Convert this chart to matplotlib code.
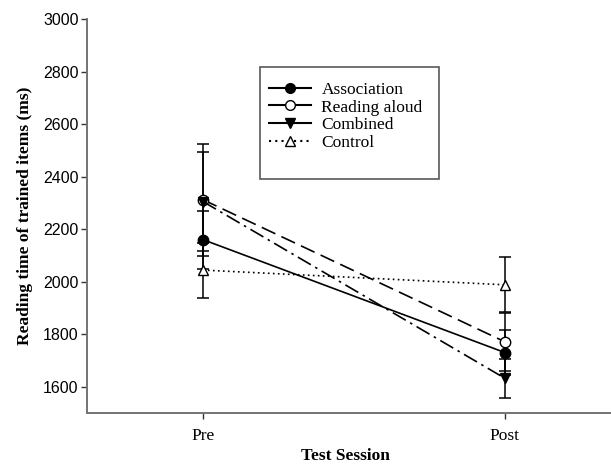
import matplotlib
matplotlib.use("Agg")
from matplotlib import pyplot as plt
from matplotlib.lines import Line2D
from matplotlib.patches import Rectangle

sessions = ['Pre', 'Post']
groups = ['Association', 'Reading aloud', 'Combined', 'Control']
means = {
    'Association': [2160, 1730],
    'Reading aloud': [2312, 1771],
    'Combined': [2305, 1632],
    'Control': [2044, 1988],
}
errors = {
    'Association': [110, 87],
    'Reading aloud': [213, 110],
    'Combined': [190, 75],
    'Control': [105, 104],
}
styles = {
    'Association': dict(linestyle='-', marker='o', mfc='black'),
    'Reading aloud': dict(linestyle=(0, (9, 4)), marker='o', mfc='white'),
    'Combined': dict(linestyle=(0, (9, 3, 1.5, 3)), marker='v', mfc='black'),
    'Control': dict(linestyle=(0, (1, 2)), marker='^', mfc='white'),
}

serif = ['Liberation Serif', 'DejaVu Serif']
sans = ['Liberation Sans', 'DejaVu Sans']

fig = plt.figure(figsize=(6.11, 4.70), dpi=100)
ax = fig.add_axes([0.1424, 0.1213, 0.857, 0.8383])

x = list(range(len(sessions)))
for g in groups:
    ax.errorbar(x, means[g], yerr=errors[g], fmt='none', ecolor='black',
                elinewidth=1.1, capsize=4.5, capthick=1.1, zorder=2)
for g in groups:
    st = styles[g]
    ax.plot(x, means[g], color='black', linewidth=1.2, linestyle=st['linestyle'],
            marker=st['marker'], markersize=7.5, markerfacecolor=st['mfc'],
            markeredgecolor='black', markeredgewidth=1, zorder=3)

ax.set_xlim(-0.384, 1.35)
ax.set_ylim(1500, 3000)
ax.set_yticks(range(1600, 3001, 200))
ax.set_xticks(x)
ax.set_xticklabels(sessions, family=serif, fontsize=12.5)
for lab in ax.get_yticklabels():
    lab.set_family(sans)
    lab.set_fontsize(11.5)

for s in ['top', 'right']:
    ax.spines[s].set_visible(False)
for s in ['left', 'bottom']:
    ax.spines[s].set_color('0.45')
    ax.spines[s].set_linewidth(1.4)
ax.spines['left'].set_bounds(1500, 3000)
ax.tick_params(axis='both', direction='out', length=4, width=1, color='0.2')
ax.tick_params(axis='x', pad=7)
ax.tick_params(axis='y', pad=2)

ax.set_ylabel('Reading time of trained items (ms)', family=serif, fontsize=12.5,
              fontweight='bold', labelpad=7)
ax.set_xlabel('Test Session', family=serif, fontsize=12.5, fontweight='bold')
ax.xaxis.set_label_coords(0.494, -0.088)

# legend (solid lines in the key, as in the original)
handles = [
    Line2D([], [], color='black', linestyle='-', marker='o', mfc='black', mec='black', markersize=7),
    Line2D([], [], color='black', linestyle='-', marker='o', mfc='white', mec='black', markersize=7),
    Line2D([], [], color='black', linestyle='-', marker='v', mfc='black', mec='black', markersize=7),
    Line2D([], [], color='black', linestyle=(0, (1, 2)), marker='^', mfc='white', mec='black', markersize=7),
]
leg = ax.legend(handles, groups, loc='upper left', bbox_to_anchor=(0.335, 0.858),
                frameon=False, handlelength=2.4, handletextpad=0.6,
                labelspacing=0.08, borderaxespad=0,
                prop={'family': serif, 'size': 12.5})
ax.add_patch(Rectangle((0.330, 0.594), 0.342, 0.284, transform=ax.transAxes,
                       fill=False, edgecolor='0.35', linewidth=1.2, zorder=5))

fig.savefig('out.png', dpi=100)
